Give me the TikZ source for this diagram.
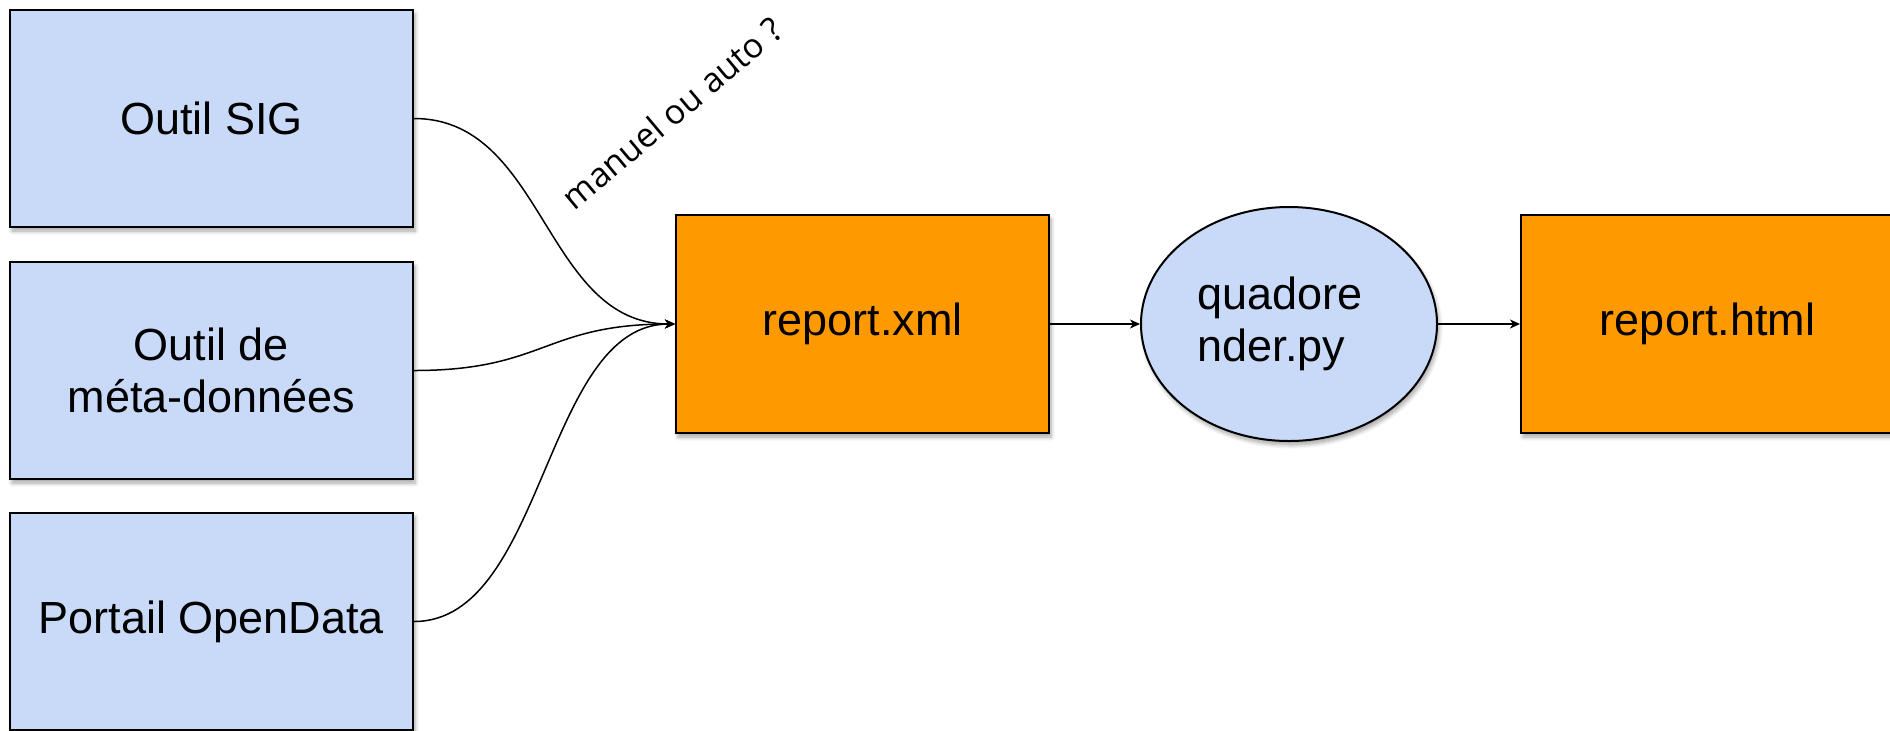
\documentclass[tikz,border=0pt]{standalone}
\usepackage{fontspec}
\setmainfont{Liberation Sans}
\newfontfamily\labelfont{Open Sans}
\usetikzlibrary{arrows.meta,shapes.geometric,shadows.blur}
\definecolor{boxblue}{HTML}{C9DAF8}
\definecolor{boxorange}{HTML}{FF9900}
\begin{document}
\begin{tikzpicture}[x=0.5pt,y=-0.5pt,
  shd/.style={blur shadow={shadow xshift=1pt,shadow yshift=-2pt,shadow blur radius=2pt,shadow blur steps=6,shadow opacity=35}},
  boxbase/.style={draw=black,line width=1pt,inner sep=0pt,align=center,
    font=\fontsize{22.5}{26}\selectfont,shd},
  bluebox/.style={boxbase,fill=boxblue,minimum width=201.5pt,minimum height=108.5pt},
  orangebox/.style={boxbase,fill=boxorange,minimum width=186.5pt,minimum height=109pt},
  procnode/.style={boxbase,ellipse,fill=boxblue,minimum width=148pt,minimum height=117pt,align=left},
  conn/.style={line width=0.75pt,-{Stealth[length=5pt,width=4.5pt,inset=1.5pt]}},
  note/.style={font=\labelfont\fontsize{17}{20}\selectfont,inner sep=0pt}
]
\useasboundingbox (0,0) rectangle (1890,730);

\node[bluebox] (sig) at (211.5,118.5) {Outil SIG};
\node[bluebox] (meta) at (211.5,370.5) {Outil de\\méta-données};
\node[bluebox] (portail) at (211.5,621.5) {Portail OpenData};

\node[orangebox] (xml) at (862.5,324) {report.xml};
\node[procnode] (py) at (1289,324) {quadore\hspace*{9pt}\\nder.py};
\node[orangebox] (html) at (1707.5,324) {report.html};

\draw[conn] (sig.east) .. controls +(131,0) and +(-131,0) .. (xml.west);
\draw[conn] (meta.east) .. controls +(131,0) and +(-131,0) .. (xml.west);
\draw[conn] (portail.east) .. controls +(131,0) and +(-131,0) .. (xml.west);

\draw[conn] (xml.east) -- (py.west);
\draw[conn] (py.east) -- (html.west);

\node[note,rotate=40] (lbl) at (672,113) {manuel ou auto ?};
\end{tikzpicture}
\end{document}
